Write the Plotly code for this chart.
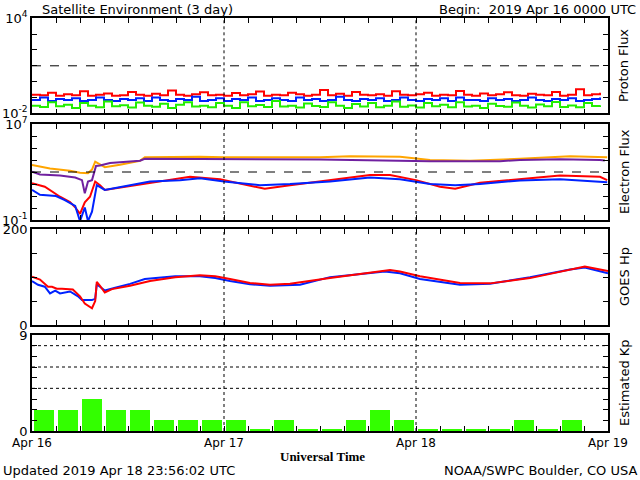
import plotly.graph_objects as go

# ---- data ----
hours_p = list(range(72))
proton_red = [0.15,0.14,0.2,0.13,0.16,0.14,0.25,0.13,0.15,0.18,0.13,0.14,0.22,0.15,0.13,0.17,0.14,0.28,0.15,0.13,0.16,0.21,0.14,0.15,
0.13,0.19,0.14,0.16,0.24,0.13,0.15,0.14,0.2,0.16,0.13,0.15,0.3,0.14,0.17,0.13,0.22,0.15,0.14,0.16,0.13,0.25,0.15,0.14,
0.16,0.2,0.13,0.15,0.14,0.26,0.15,0.13,0.18,0.14,0.16,0.21,0.14,0.13,0.17,0.15,0.14,0.22,0.13,0.15,0.33,0.14,0.16,0.2]
proton_blue = [0.07,0.1,0.06,0.08,0.07,0.09,0.06,0.07,0.1,0.07,0.06,0.08,0.07,0.09,0.06,0.1,0.07,0.06,0.08,0.07,0.11,0.06,0.07,0.09,
0.06,0.08,0.07,0.1,0.06,0.07,0.09,0.07,0.06,0.1,0.07,0.08,0.06,0.07,0.11,0.07,0.06,0.08,0.07,0.09,0.06,0.07,0.1,0.07,
0.06,0.08,0.07,0.09,0.06,0.1,0.07,0.07,0.06,0.09,0.07,0.08,0.06,0.07,0.1,0.07,0.06,0.08,0.07,0.09,0.06,0.07,0.08,0.1]
proton_green = [0.03,0.025,0.05,0.028,0.035,0.022,0.045,0.03,0.024,0.055,0.028,0.032,0.023,0.048,0.03,0.026,0.04,0.022,0.035,0.05,0.027,0.03,0.024,0.045,
0.03,0.022,0.05,0.028,0.033,0.025,0.06,0.027,0.03,0.023,0.042,0.029,0.025,0.05,0.03,0.022,0.038,0.027,0.045,0.024,0.03,0.055,0.026,0.031,
0.023,0.044,0.028,0.035,0.024,0.05,0.027,0.03,0.022,0.04,0.029,0.026,0.048,0.03,0.023,0.036,0.028,0.052,0.025,0.031,0.024,0.045,0.029,0.032]

e_orange_t = [0,2.25,4.75,6,7,7.5,7.9,8.5,9.1,11,13.5,14.1,21,24,36,39.75,46,49.75,54.75,61,67.25,71.9]
e_orange = [3.8e3,2e3,1.26e3,870,800,1.6e3,7.2e3,4e3,2.5e3,4e3,8.7e3,1.66e4,1.9e4,1.66e4,1.66e4,2.1e4,1.9e4,1e4,8.7e3,1.26e4,2.1e4,1.66e4]
e_purple_t = [0,1,3.5,5.4,6.25,6.6,7,7.5,8,8.5,9.75,13.5,14.1,21,24,36,49.75,58.5,61,66,71,71.6]
e_purple = [1.07e3,630,500,350,210,17,160,210,3.2e3,3.5e3,5.6e3,8.7e3,1.26e4,1.2e4,1.2e4,1.12e4,8e3,8e3,1e4,1.15e4,1e4,9e3]
e_red_t = [0,1.6,3.5,4.75,5.4,6,6.6,7.25,7.9,8.5,9.1,11,14.75,19.75,23.5,27.25,29.1,32.25,37.25,42.25,44.75,48,51,52.9,56,61,66,71,71.9]
e_red = [115,60,8.7,3.2,1.15,0.32,3,8.7,160,80,32,50,126,400,250,80,40,80,210,560,560,210,60,40,126,250,500,400,210]
e_blue_t = [0,1,3,4.1,5.4,6,6.6,7,7.5,7.9,8.1,9.1,14.75,18.5,21,24,28.5,32.25,37.25,42.25,46,49.75,52.9,56,61,66,71,71.9]
e_blue = [32,12.6,10,4.6,1.5,0.08,1.1,0.08,0.5,10,80,32,160,210,300,160,80,100,160,350,250,100,80,100,200,250,160,140]

hp_red_t = [0,1,2,2.5,3.1,3.75,5.1,6,6.6,7,7.5,7.9,8.1,8.5,9.1,10,12.25,14.75,17.9,21,22.9,24.75,27.25,29.75,32.25,37.25,44.75,46,48.5,53.5,57.25,62.25,67.25,69.1,72]
hp_red = [101,95,80,80,76,76,74,60,45,40,35,50,90,82,68,75,82,92,100,104,102,96,88,84,86,98,115,112,102,88,87,98,115,122,113]
hp_blue_t = [0,0.75,1.6,2.25,2.9,3.5,4.75,5.75,6.25,7.5,7.9,8.1,8.5,9.1,10.4,12.25,14.1,17.9,21,22.9,24.75,27.25,29.75,33.5,37.25,44.1,46,48.5,53.5,57.25,62.25,67.25,69.1,72]
hp_blue = [92,84,80,66,72,66,70,60,52,52,55,85,80,72,78,86,96,102,102,98,92,85,82,84,100,112,108,96,84,86,100,116,120,108]

kp_t = [1.5,4.5,7.5,10.5,13.5,16.5,19.5,22.5,25.5,28.5,31.5,34.5,37.5,40.5,43.5,46.5,49.5,52.5,55.5,58.5,61.5,64.5,67.5]
kp = [2,2,3,2,2,1,1,1,1,0.2,1,0.2,0.2,1,2,1,0.2,0.2,0.2,0.2,1,0.2,1]

day_labels = ["Apr 16", "Apr 17", "Apr 18", "Apr 19"]
day_hours = [0, 24, 48, 72]

# ---- figure ----
fig = go.Figure()
FONT = "DejaVu Sans"
lw = 2

def line(x, y, color, ax, shape="linear", width=lw):
    fig.add_trace(go.Scatter(x=x, y=y, mode="lines", line=dict(color=color, width=width, shape=shape),
                             xaxis="x" + ax, yaxis="y" + ax, showlegend=False, hoverinfo="skip"))

line(hours_p, proton_red, "#ff0000", "", "hv")
line(hours_p, proton_blue, "#0022ff", "", "hv")
line(hours_p, proton_green, "#22ee00", "", "hv")
line(e_orange_t, e_orange, "#ffa500", "2")
line(e_purple_t, e_purple, "#7020a0", "2")
line(e_red_t, e_red, "#ff0000", "2")
line(e_blue_t, e_blue, "#0022ff", "2")
line(hp_blue_t, hp_blue, "#0022ff", "3")
line(hp_red_t, hp_red, "#ff0000", "3")
fig.add_trace(go.Bar(x=kp_t, y=kp, width=2.5, marker=dict(color="#33ff00", line=dict(width=0)),
                     xaxis="x4", yaxis="y4", showlegend=False, hoverinfo="skip"))

xtickvals = list(range(0, 73, 3))
def xaxis(anchor, labels):
    return dict(domain=[32/640, 608/640], range=[0, 72], anchor=anchor, showgrid=False, zeroline=False,
                automargin=False,
                showline=True, linecolor="black", linewidth=1.5, mirror="ticks", ticks="inside", ticklen=5,
                tickcolor="black", tickvals=xtickvals,
                ticktext=[(day_labels[day_hours.index(v)] if (labels and v in day_hours) else "") for v in xtickvals],
                tickfont=dict(family=FONT, size=12, color="black"))

def dom(top, bot):
    return [1 - bot/480, 1 - top/480]

def yaxis(anchor, d, **kw):
    base = dict(domain=d, anchor=anchor, showgrid=False, zeroline=False, showline=True, linecolor="black",
                automargin=False,
                linewidth=1.5, mirror="ticks", ticks="inside", ticklen=5, tickcolor="black",
                tickfont=dict(family=FONT, size=13, color="black"))
    base.update(kw)
    return base

p_vals = [1e-2, 1e-1, 1, 10, 1e2, 1e3, 1e4]
e_vals = [1e-1, 1, 10, 1e2, 1e3, 1e4, 1e5, 1e6, 1e7]
fig.update_layout(
    width=640, height=480, margin=dict(l=0, r=0, t=0, b=0),
    paper_bgcolor="white", plot_bgcolor="white", bargap=0,
    xaxis=xaxis("y", False), xaxis2=xaxis("y2", False), xaxis3=xaxis("y3", False), xaxis4=xaxis("y4", True),
    yaxis=yaxis("x", dom(18.3, 113.3), type="log", range=[-2, 4], tickvals=p_vals,
                ticktext=["10<sup>-2</sup>", "", "", "", "", "", "10<sup>4</sup>"]),
    yaxis2=yaxis("x2", dom(124, 220), type="log", range=[-1, 7], tickvals=e_vals,
                 ticktext=["10<sup>-1</sup>"] + [""] * 7 + ["10<sup>7</sup>"]),
    yaxis3=yaxis("x3", dom(229.3, 325), range=[0, 200], tickvals=[0, 50, 100, 150, 200],
                 ticktext=["0", "", "", "", "200"]),
    yaxis4=yaxis("x4", dom(335, 431), range=[0, 9], tickvals=list(range(10)),
                 ticktext=["0"] + [""] * 8 + ["9"]),
)

shapes = []
for ax in ["", "2", "3", "4"]:
    for d in [24, 48]:
        shapes.append(dict(type="line", xref="x" + ax, yref="y" + ax + " domain", x0=d, x1=d, y0=0, y1=1,
                           line=dict(color="black", width=1, dash="dot")))
shapes.append(dict(type="line", xref="x domain", yref="y", x0=0, x1=1, y0=10, y1=10,
                   line=dict(color="black", width=1, dash="dash")))
shapes.append(dict(type="line", xref="x2 domain", yref="y2", x0=0, x1=1, y0=1000, y1=1000,
                   line=dict(color="black", width=1, dash="dash")))
for g in [4, 6, 8]:
    shapes.append(dict(type="line", xref="x4 domain", yref="y4", x0=0, x1=1, y0=g, y1=g,
                       line=dict(color="black", width=1, dash="dot")))
fig.update_layout(shapes=shapes)

f = dict(family=FONT, size=13, color="black")
ann = [
    dict(text="Satellite Environment (3 day)", x=40/640, y=1 - 9/480, xanchor="left"),
    dict(text="Begin:  2019 Apr 16 0000 UTC", x=638/640, y=1 - 9/480, xanchor="right"),
    dict(text="Updated 2019 Apr 18 23:56:02 UTC", x=1/640, y=1 - 470/480, xanchor="left"),
    dict(text="NOAA/SWPC Boulder, CO USA", x=639/640, y=1 - 470/480, xanchor="right"),
    dict(text="<b>Universal Time</b>", x=322/640, y=1 - 456/480, xanchor="center",
         font=dict(family="Liberation Serif", size=13, color="black")),
]
for txt, yc in [("Proton Flux", 66), ("Electron Flux", 172), ("GOES Hp", 277), ("Estimated Kp", 383)]:
    ann.append(dict(text=txt, x=624/640, y=1 - yc/480, xanchor="center", textangle=-90))
for a in ann:
    a.update(xref="paper", yref="paper", yanchor="middle", showarrow=False)
    a.setdefault("font", f)
fig.update_layout(annotations=ann)

fig.write_html("out.html", config={"displayModeBar": False},
               post_script="document.body.style.margin='0';document.body.style.overflow='hidden';")
